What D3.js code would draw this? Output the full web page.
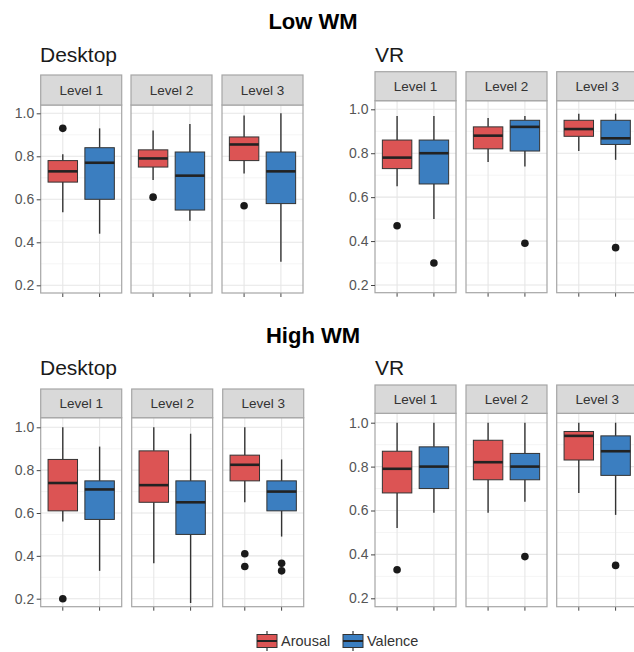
<!DOCTYPE html>
<html>
<head>
<meta charset="utf-8">
<script src="https://cdn.jsdelivr.net/npm/d3@7"></script>
<style>
  html, body { margin: 0; padding: 0; background: #fff; }
  svg { display: block; font-family: "Liberation Sans", Arial, Helvetica, sans-serif; }
</style>
</head>
<body>
<svg id="chart" width="634" height="652"></svg>
<script>
// ---------- DATA ----------
const levels = ["Level 1", "Level 2", "Level 3"];
const measures = ["Arousal", "Valence"];
const yTicks = [0.2, 0.4, 0.6, 0.8, 1.0];
const yMinor = [0.3, 0.5, 0.7, 0.9];
const wmTitles = ["Low WM", "High WM"];
const deviceTitles = ["Desktop", "VR"];

// box stats per level: [lowerWhisker, Q1, median, Q3, upperWhisker]
const lowDesktopArousal = [[0.54, 0.68, 0.73, 0.78, 0.81], [0.69, 0.75, 0.79, 0.83, 0.92], [0.72, 0.78, 0.855, 0.89, 0.99]];
const lowDesktopValence = [[0.44, 0.60, 0.77, 0.84, 0.93], [0.50, 0.55, 0.71, 0.82, 0.95], [0.31, 0.58, 0.73, 0.82, 1.00]];
const lowVRArousal      = [[0.65, 0.73, 0.78, 0.86, 0.97], [0.76, 0.82, 0.88, 0.92, 0.96], [0.81, 0.877, 0.91, 0.95, 0.98]];
const lowVRValence      = [[0.50, 0.66, 0.80, 0.86, 0.97], [0.74, 0.81, 0.92, 0.95, 0.97], [0.77, 0.84, 0.868, 0.95, 0.98]];
const highDesktopArousal = [[0.56, 0.61, 0.74, 0.85, 1.00], [0.365, 0.65, 0.73, 0.89, 1.00], [0.65, 0.75, 0.825, 0.87, 1.00]];
const highDesktopValence = [[0.33, 0.57, 0.71, 0.75, 0.91], [0.18, 0.50, 0.65, 0.75, 0.97], [0.49, 0.61, 0.70, 0.75, 0.85]];
const highVRArousal     = [[0.52, 0.68, 0.79, 0.87, 1.00], [0.59, 0.74, 0.82, 0.92, 1.00], [0.68, 0.83, 0.94, 0.96, 1.00]];
const highVRValence     = [[0.59, 0.70, 0.80, 0.89, 1.00], [0.64, 0.74, 0.80, 0.86, 1.00], [0.58, 0.76, 0.87, 0.94, 1.00]];

// outliers per level
const lowDesktopArousalOut = [[0.93], [0.61], [0.57]];
const lowDesktopValenceOut = [[], [], []];
const lowVRArousalOut = [[0.47], [], []];
const lowVRValenceOut = [[0.30], [0.39], [0.37]];
const highDesktopArousalOut = [[0.20], [], [0.41, 0.35]];
const highDesktopValenceOut = [[], [], [0.365, 0.33]];
const highVRArousalOut = [[0.33], [], []];
const highVRValenceOut = [[], [0.39], [0.35]];

// ---------- STYLE / LAYOUT ----------
const colors = { Arousal: "#dc5454", Valence: "#3b7ec0" };

const groups = [
  { wm: 0, dev: 0, stats: [lowDesktopArousal, lowDesktopValence], outs: [lowDesktopArousalOut, lowDesktopValenceOut],
    x0s: [40.7, 131, 222], w: 81, stripTop: 75, stripH: 30, yTop: 113.3, yBot: 285.3, bottom: 293, tx: 40, ty: 61.5 },
  { wm: 0, dev: 1, stats: [lowVRArousal, lowVRValence], outs: [lowVRArousalOut, lowVRValenceOut],
    x0s: [375, 466, 556.7], w: 81, stripTop: 71.7, stripH: 29, yTop: 109.3, yBot: 285, bottom: 292.7, tx: 375, ty: 61.5 },
  { wm: 1, dev: 0, stats: [highDesktopArousal, highDesktopValence], outs: [highDesktopArousalOut, highDesktopValenceOut],
    x0s: [40.7, 131.7, 222.7], w: 81, stripTop: 389, stripH: 28.7, yTop: 427.3, yBot: 598.7, bottom: 606.7, tx: 40, ty: 375 },
  { wm: 1, dev: 1, stats: [highVRArousal, highVRValence], outs: [highVRArousalOut, highVRValenceOut],
    x0s: [375, 466, 556.7], w: 81, stripTop: 385, stripH: 28.3, yTop: 422.7, yBot: 598.3, bottom: 606.7, tx: 375, ty: 375 }
];

const svg = d3.select("#chart");
svg.append("rect").attr("width", 634).attr("height", 652).attr("fill", "#fff");

// WM titles
const wmTitleY = [29, 343];
wmTitles.forEach((t, i) => {
  svg.append("text").attr("x", 313).attr("y", wmTitleY[i])
    .attr("text-anchor", "middle").attr("font-size", 22).attr("font-weight", "bold")
    .attr("fill", "#000").text(t);
});

groups.forEach(g => {
  const y = d3.scaleLinear().domain([0.2, 1.0]).range([g.yBot, g.yTop]);
  const plotTop = g.stripTop + g.stripH;

  svg.append("text").attr("x", g.tx).attr("y", g.ty)
    .attr("font-size", 21).attr("fill", "#1a1a1a").text(deviceTitles[g.dev]);

  levels.forEach((lvl, li) => {
    const x0 = g.x0s[li];
    const x = d3.scaleBand().domain(measures).range([x0, x0 + g.w]).paddingInner(0.2).paddingOuter(0.2);
    const pg = svg.append("g");

    pg.append("rect").attr("x", x0).attr("y", plotTop).attr("width", g.w).attr("height", g.bottom - plotTop).attr("fill", "#fff");
    pg.selectAll(".minor").data(yMinor).join("line")
      .attr("x1", x0).attr("x2", x0 + g.w).attr("y1", d => y(d)).attr("y2", d => y(d))
      .attr("stroke", "#f3f3f3").attr("stroke-width", 0.8);
    pg.selectAll(".major").data(yTicks).join("line")
      .attr("x1", x0).attr("x2", x0 + g.w).attr("y1", d => y(d)).attr("y2", d => y(d))
      .attr("stroke", "#e6e6e6").attr("stroke-width", 1.1);
    pg.selectAll(".vgrid").data(measures).join("line")
      .attr("x1", d => x(d) + x.bandwidth() / 2).attr("x2", d => x(d) + x.bandwidth() / 2)
      .attr("y1", plotTop).attr("y2", g.bottom)
      .attr("stroke", "#e6e6e6").attr("stroke-width", 1.1);

    measures.forEach((m, mi) => {
      const s = g.stats[mi][li];
      const cx = x(m) + x.bandwidth() / 2;
      const bw = x.bandwidth();
      pg.append("line").attr("x1", cx).attr("x2", cx).attr("y1", y(s[0])).attr("y2", y(s[1]))
        .attr("stroke", "#333").attr("stroke-width", 1.4);
      pg.append("line").attr("x1", cx).attr("x2", cx).attr("y1", y(s[3])).attr("y2", y(s[4]))
        .attr("stroke", "#333").attr("stroke-width", 1.4);
      pg.append("rect").attr("x", x(m)).attr("y", y(s[3])).attr("width", bw).attr("height", y(s[1]) - y(s[3]))
        .attr("fill", colors[m]).attr("stroke", "#333").attr("stroke-width", 1);
      pg.append("line").attr("x1", x(m)).attr("x2", x(m) + bw).attr("y1", y(s[2])).attr("y2", y(s[2]))
        .attr("stroke", "#222").attr("stroke-width", 2.6);
      pg.selectAll(null).data(g.outs[mi][li]).join("circle")
        .attr("cx", cx).attr("cy", d => y(d)).attr("r", 3.8).attr("fill", "#1a1a1a");
      pg.append("line").attr("x1", cx).attr("x2", cx).attr("y1", g.bottom).attr("y2", g.bottom + 4)
        .attr("stroke", "#444").attr("stroke-width", 1);
    });

    pg.append("rect").attr("x", x0).attr("y", plotTop).attr("width", g.w).attr("height", g.bottom - plotTop)
      .attr("fill", "none").attr("stroke", "#a6a6a6").attr("stroke-width", 1.2);
    pg.append("rect").attr("x", x0).attr("y", g.stripTop).attr("width", g.w).attr("height", g.stripH)
      .attr("fill", "#d9d9d9").attr("stroke", "#a6a6a6").attr("stroke-width", 1.2);
    pg.append("text").attr("x", x0 + g.w / 2).attr("y", g.stripTop + g.stripH / 2 + 4.8)
      .attr("text-anchor", "middle").attr("font-size", 13.5).attr("fill", "#333").text(lvl);
  });

  const axis = svg.append("g").attr("transform", `translate(${g.x0s[0]},0)`)
    .call(d3.axisLeft(y).tickValues(yTicks).tickFormat(d3.format(".1f")).tickSize(4).tickPadding(2.5));
  axis.select(".domain").remove();
  axis.selectAll(".tick line").attr("stroke", "#444");
  axis.selectAll(".tick text").attr("font-size", 14).attr("fill", "#555")
    .attr("font-family", "'Liberation Sans', Arial, sans-serif");
});

// legend
const legendItems = [
  { m: "Arousal", kx: 257, tx: 281 },
  { m: "Valence", kx: 343, tx: 367 }
];
const lg = svg.append("g");
lg.selectAll("g.key").data(legendItems).join("g").each(function (d) {
  const k = d3.select(this);
  const top = 632, h = 18, w = 20;
  k.append("line").attr("x1", d.kx + w / 2).attr("x2", d.kx + w / 2).attr("y1", top - 1).attr("y2", top + h + 1)
    .attr("stroke", "#333").attr("stroke-width", 1.2);
  k.append("rect").attr("x", d.kx).attr("y", top + 2.5).attr("width", w).attr("height", h - 5)
    .attr("fill", colors[d.m]).attr("stroke", "#333").attr("stroke-width", 1);
  k.append("line").attr("x1", d.kx).attr("x2", d.kx + w).attr("y1", top + h / 2).attr("y2", top + h / 2)
    .attr("stroke", "#222").attr("stroke-width", 2);
  k.append("text").attr("x", d.tx).attr("y", top + h / 2 + 5).attr("font-size", 14.5)
    .attr("fill", "#333").text(d.m);
});
</script>
</body>
</html>
